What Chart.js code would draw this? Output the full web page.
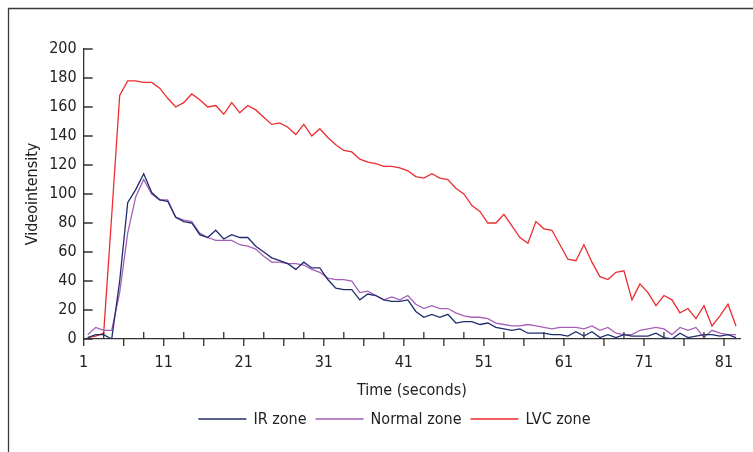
<!DOCTYPE html>
<html>
<head>
<meta charset="utf-8">
<script src="https://cdn.jsdelivr.net/npm/chart.js@4/dist/chart.umd.min.js"></script>
<style>
  html, body { margin: 0; padding: 0; background: #fff; }
  #wrap { width: 753px; height: 452px; }
</style>
</head>
<body>
<div id="wrap"><canvas id="c"></canvas></div>
<script>
// 数据 (one sample per second)
var ir_zone = [1, 3, 3, 0, 40, 94, 103, 114, 101, 96, 95, 84, 81, 80, 72, 70, 75, 69, 72, 70,
  70, 64, 60, 56, 54, 52, 48, 53, 49, 49, 41, 35, 34, 34, 27, 31, 30, 27, 26, 26,
  27, 19, 15, 17, 15, 17, 11, 12, 12, 10, 11, 8, 7, 6, 7, 4, 4, 4, 3, 3,
  2, 5, 2, 5, 1, 3, 1, 3, 2, 2, 2, 4, 1, 0, 4, 1, 2, 3, 3, 2, 3, 1];
var normal_zone = [3, 8, 6, 6, 32, 73, 98, 110, 100, 96, 96, 84, 82, 81, 73, 70, 68, 68, 68, 65,
  64, 62, 57, 53, 53, 52, 52, 51, 48, 46, 42, 41, 41, 40, 32, 33, 30, 27, 29, 27,
  30, 24, 21, 23, 21, 21, 18, 16, 15, 15, 14, 11, 10, 9, 9, 10, 9, 8, 7, 8,
  8, 8, 7, 9, 6, 8, 4, 3, 3, 6, 7, 8, 7, 3, 8, 6, 8, 1, 6, 4, 3, 3];
var lvc_zone = [1, 2, 4, 85, 168, 178, 178, 177, 177, 173, 166, 160, 163, 169, 165, 160, 161, 155, 163, 156,
  161, 158, 153, 148, 149, 146, 141, 148, 140, 145, 139, 134, 130, 129, 124, 122, 121, 119, 119, 118,
  116, 112, 111, 114, 111, 110, 104, 100, 92, 88, 80, 80, 86, 78, 70, 66, 81, 76, 75, 65,
  55, 54, 65, 53, 43, 41, 46, 47, 27, 38, 32, 23, 30, 27, 18, 21, 14, 23, 9, 16, 24, 9];
// samples sit half a second after each tick
var seconds = ir_zone.map(function (v, i) { return i + 1.5; });
var x_labels = [1, 11, 21, 31, 41, 51, 61, 71, 81];
var y_ticks = [0, 20, 40, 60, 80, 100, 120, 140, 160, 180, 200];

var series = [
  { label: 'IR zone', data: ir_zone, color: '#1f2c6e' },
  { label: 'Normal zone', data: normal_zone, color: '#a65fb8' },
  { label: 'LVC zone', data: lvc_zone, color: '#ee2b30' }
];

var font_family = '"Liberation Sans Narrow", "DejaVu Sans Condensed", "Roboto Condensed", sans-serif';
var font_size = 16;
var axis_color = '#333333';

function toPoints(arr) {
  return arr.map(function (v, i) { return { x: seconds[i], y: v }; });
}

// 外框, tick marks and legend drawn on top of the chart
var decor = {
  id: 'decor',
  afterDraw: function (chart) {
    var ctx = chart.ctx;
    var xs = chart.scales.x, ys = chart.scales.y;
    ctx.save();
    ctx.strokeStyle = '#3a3a3a';
    ctx.lineWidth = 1.3;
    ctx.beginPath();
    ctx.moveTo(8.5, 452); ctx.lineTo(8.5, 8.5); ctx.lineTo(753, 8.5);
    ctx.stroke();

    ctx.strokeStyle = axis_color;
    ctx.lineWidth = 1.3;
    var base = ys.getPixelForValue(0);
    ctx.beginPath();
    xs.ticks.forEach(function (t, j) {
      var px = xs.getPixelForValue(t.value);
      if (j % 2 === 0) { ctx.moveTo(px, base); ctx.lineTo(px, base + 7); }
      else { ctx.moveTo(px, base); ctx.lineTo(px, base - 7); }
    });
    var left = xs.getPixelForValue(1);
    ys.ticks.forEach(function (t) {
      var py = ys.getPixelForValue(t.value);
      ctx.moveTo(left, py); ctx.lineTo(left + 9, py);
    });
    ctx.stroke();

    // legend
    ctx.font = font_size + 'px ' + font_family;
    ctx.textBaseline = 'middle';
    var line_w = 48, gap = 7, total = 0;
    series.forEach(function (s, i) {
      total += line_w + gap + ctx.measureText(s.label).width + (i ? gap + 2 : 0);
    });
    var lx = 394.5 - total / 2, ly = 419;
    series.forEach(function (s) {
      ctx.strokeStyle = s.color;
      ctx.lineWidth = 1.5;
      ctx.beginPath(); ctx.moveTo(lx, ly); ctx.lineTo(lx + line_w, ly); ctx.stroke();
      lx += line_w + gap;
      ctx.fillStyle = '#222';
      ctx.fillText(s.label, lx, ly + 1);
      lx += ctx.measureText(s.label).width + gap + 2;
    });
    ctx.restore();
  }
};

new Chart(document.getElementById('c'), {
  type: 'line',
  data: {
    datasets: series.map(function (s) {
      return {
        label: s.label,
        data: toPoints(s.data),
        borderColor: s.color,
        backgroundColor: s.color,
        borderWidth: 1.3,
        pointRadius: 0,
        tension: 0,
        fill: false
      };
    })
  },
  options: {
    responsive: true,
    maintainAspectRatio: false,
    animation: false,
    layout: { padding: { left: 21, right: 13, top: 49, bottom: 48 } },
    plugins: { legend: { display: false }, tooltip: { enabled: false } },
    scales: {
      x: {
        type: 'linear',
        min: 1,
        max: 83,
        afterBuildTicks: function (scale) {
          var t = [];
          for (var v = 1; v <= 81; v += 2.5) t.push({ value: v });
          scale.ticks = t;
        },
        ticks: {
          autoSkip: false,
          maxRotation: 0,
          padding: 19,
          color: '#222',
          font: { family: font_family, size: font_size, lineHeight: 0.55 },
          callback: function (v) { return x_labels.indexOf(v) >= 0 ? String(v) : ''; }
        },
        grid: { display: false, drawTicks: false },
        border: { display: true, color: axis_color, width: 1.3 },
        title: {
          display: true,
          text: 'Time (seconds)',
          color: '#222',
          font: { family: font_family, size: font_size },
          padding: { top: -5, bottom: 4 }
        }
      },
      y: {
        min: 0,
        max: 200,
        afterBuildTicks: function (scale) {
          scale.ticks = y_ticks.map(function (v) { return { value: v }; });
        },
        ticks: {
          padding: 7,
          color: '#222',
          font: { family: font_family, size: font_size }
        },
        grid: { display: false, drawTicks: false },
        border: { display: true, color: axis_color, width: 1.3 },
        title: {
          display: true,
          text: 'Videointensity',
          color: '#222',
          font: { family: font_family, size: font_size },
          padding: { top: 2, bottom: 0 }
        }
      }
    }
  },
  plugins: [decor]
});
</script>
</body>
</html>
